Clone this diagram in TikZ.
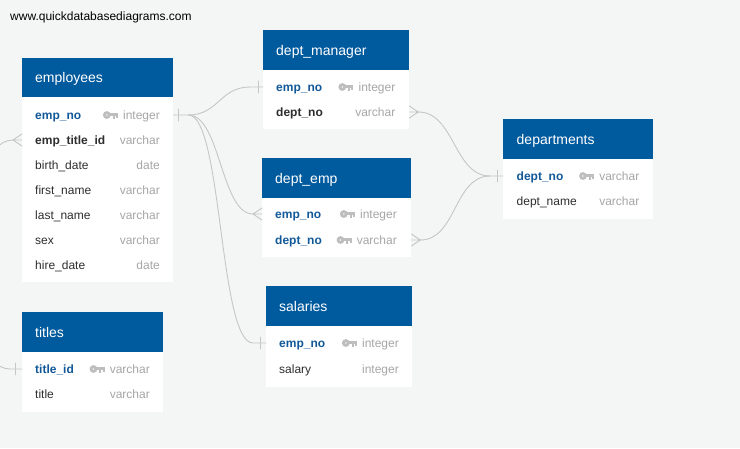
\documentclass[tikz,border=0pt]{standalone}
\usepackage{fontspec}
\setmainfont{Liberation Sans}
\usetikzlibrary{positioning}
\definecolor{qdbhead}{HTML}{005A9E}
\definecolor{qdbpk}{HTML}{12599A}
\definecolor{qdbtext}{HTML}{2E2E2E}
\definecolor{qdbtype}{HTML}{A6A6A6}
\definecolor{qdbkey}{HTML}{BEBEBE}
\definecolor{qdbline}{HTML}{C6C6C6}
\definecolor{qdbbg}{HTML}{F4F5F5}
\begin{document}
\begin{tikzpicture}[x=1pt,y=-1pt,line cap=round,line join=round,
  tblhead/.style={fill=qdbhead,anchor=north west,inner sep=0pt,minimum height=40pt},
  tblbody/.style={fill=white,anchor=north west,inner sep=0pt},
  tbltitle/.style={font=\fontsize{14}{16}\selectfont,text=white,inner sep=0pt,text height=12pt,text depth=2pt,anchor=west},
  field/.style={font=\fontsize{12}{14}\selectfont,text=qdbtext,inner sep=0pt,text height=8pt,text depth=0pt,anchor=west},
  pkfield/.style={field,font=\fontsize{12}{14}\selectfont\bfseries,text=qdbpk},
  fkfield/.style={field,font=\fontsize{12}{14}\selectfont\bfseries},
  ftype/.style={field,text=qdbtype,anchor=east},
  link/.style={draw=qdbline,line width=0.9pt},
  pkey/.pic={
    \fill[qdbkey,even odd rule] (3.9,0) circle[radius=3.9pt] (3.9,0) circle[radius=1pt];
    \fill[qdbkey] (6,-1.9) rectangle (15,1.3);
    \fill[qdbkey] (9.6,1.3) rectangle (11.6,3.6);
    \fill[qdbkey] (13,1.3) rectangle (15,3.2);
  },
  onebar/.pic={\draw[link] (0,-6) -- (0,6);},
  crowfoot/.pic={\draw[link] (0,0) -- (9,-6) (0,0) -- (9,0) (0,0) -- (9,6);}
]
\fill[qdbbg] (0,0) rectangle (740,448);
\useasboundingbox (0,0) rectangle (740,448);
\node[field,text=black] (qdb-url) at (10,16) {www.quickdatabasediagrams.com};

% employees
\node[tblhead,minimum width=151pt,minimum height=39pt] (emp-head) at (22,58) {};
\node[tblbody,minimum width=151pt,minimum height=185pt] (emp-body) at (22,97) {};
\node[tbltitle,right=13pt of emp-head.west] (emp-title) {employees};
\node[pkfield] (emp-no) at (35,115) {emp\_no};
\node[ftype] (emp-no-t) at (160,115) {integer};
\pic at ([xshift=-20pt]emp-no-t.west) {pkey};
\node[fkfield] (emp-tid) at (35,140) {emp\_title\_id};
\node[ftype] (emp-tid-t) at (160,140) {varchar};
\foreach \nm/\f/\t/\y in {bd/birth\_date/date/165, fn/first\_name/varchar/190,
    ln/last\_name/varchar/215, sex/sex/varchar/240, hd/hire\_date/date/265} {
  \node[field] (emp-\nm) at (35,\y) {\f};
  \node[ftype] (emp-\nm-t) at (160,\y) {\t};
}

% dept_manager
\node[tblhead,minimum width=146pt] (dm-head) at (263,30) {};
\node[tblbody,minimum width=146pt,minimum height=59pt] (dm-body) at (263,70) {};
\node[tbltitle,right=13pt of dm-head.west] (dm-title) {dept\_manager};
\node[pkfield] (dm-no) at (276,87) {emp\_no};
\node[ftype] (dm-no-t) at (395.5,87) {integer};
\pic at ([xshift=-20pt]dm-no-t.west) {pkey};
\node[fkfield] (dm-dept) at (276,112) {dept\_no};
\node[ftype] (dm-dept-t) at (395.5,112) {varchar};

% dept_emp
\node[tblhead,minimum width=149pt] (de-head) at (262,158) {};
\node[tblbody,minimum width=149pt,minimum height=59pt] (de-body) at (262,198) {};
\node[tbltitle,right=13pt of de-head.west] (de-title) {dept\_emp};
\node[pkfield] (de-no) at (275,214) {emp\_no};
\node[ftype] (de-no-t) at (397,214) {integer};
\pic at ([xshift=-20pt]de-no-t.west) {pkey};
\node[pkfield] (de-dept) at (275,240) {dept\_no};
\node[ftype] (de-dept-t) at (397,240) {varchar};
\pic at ([xshift=-20pt]de-dept-t.west) {pkey};

% departments
\node[tblhead,minimum width=150pt] (dep-head) at (503,119) {};
\node[tblbody,minimum width=150pt,minimum height=60pt] (dep-body) at (503,159) {};
\node[tbltitle,right=13.5pt of dep-head.west] (dep-title) {departments};
\node[pkfield] (dep-no) at (516.5,176) {dept\_no};
\node[ftype] (dep-no-t) at (639.5,176) {varchar};
\pic at ([xshift=-20pt]dep-no-t.west) {pkey};
\node[field] (dep-name) at (516.5,201) {dept\_name};
\node[ftype] (dep-name-t) at (639.5,201) {varchar};

% titles
\node[tblhead,minimum width=141pt] (tit-head) at (22,312) {};
\node[tblbody,minimum width=141pt,minimum height=60pt] (tit-body) at (22,352) {};
\node[tbltitle,right=13pt of tit-head.west] (tit-title) {titles};
\node[pkfield] (tit-id) at (35,369) {title\_id};
\node[ftype] (tit-id-t) at (150,369) {varchar};
\pic at ([xshift=-20pt]tit-id-t.west) {pkey};
\node[field] (tit-name) at (35,394) {title};
\node[ftype] (tit-name-t) at (150,394) {varchar};

% salaries
\node[tblhead,minimum width=146pt] (sal-head) at (266,286) {};
\node[tblbody,minimum width=146pt,minimum height=61pt] (sal-body) at (266,326) {};
\node[tbltitle,right=13pt of sal-head.west] (sal-title) {salaries};
\node[pkfield] (sal-no) at (279,343) {emp\_no};
\node[ftype] (sal-no-t) at (399,343) {integer};
\pic at ([xshift=-20pt]sal-no-t.west) {pkey};
\node[field] (sal-amt) at (279,369) {salary};
\node[ftype] (sal-amt-t) at (399,369) {integer};

% row ends for the links
\coordinate (emp-no-r) at (emp-body.east |- emp-no);
\coordinate (emp-tid-l) at (emp-body.west |- emp-tid);
\coordinate (dm-no-l) at (dm-body.west |- dm-no);
\coordinate (dm-dept-r) at (dm-body.east |- dm-dept);
\coordinate (de-no-l) at (de-body.west |- de-no);
\coordinate (de-dept-r) at (de-body.east |- de-dept);
\coordinate (dep-no-l) at (dep-body.west |- dep-no);
\coordinate (tit-id-l) at (tit-body.west |- tit-id);
\coordinate (sal-no-l) at (sal-body.west |- sal-no);

% links
\draw[link] (emp-no-r) -- ++(15,0) coordinate (emp-no-s)
  .. controls +(30,0) and +(-30,0) .. ([xshift=-13pt]dm-no-l) -- (dm-no-l);
\draw[link] (emp-no-s) .. controls +(32,0) and +(-32,0) .. ([xshift=-9pt]de-no-l);
\draw[link] (emp-no-s) .. controls +(34,0) and +(-34,0) .. ([xshift=-13pt]sal-no-l) -- (sal-no-l);
\draw[link] ([xshift=9pt]dm-dept-r) .. controls +(36,0) and +(-36,0) .. ([xshift=-13pt]dep-no-l) -- (dep-no-l);
\draw[link] ([xshift=9pt]de-dept-r) .. controls +(36,0) and +(-36,0) .. ([xshift=-13pt]dep-no-l);
\draw[link] ([xshift=-9pt]emp-tid-l) .. controls +(-56,0) and +(-56,0) .. ([xshift=-12pt]tit-id-l) -- (tit-id-l);

% ends of the links
\pic at ([xshift=5pt]emp-no-r) {onebar};
\pic at ([xshift=-5pt]dm-no-l) {onebar};
\pic at ([xshift=-6pt]sal-no-l) {onebar};
\pic at ([xshift=-6pt]dep-no-l) {onebar};
\pic at ([xshift=-7pt]tit-id-l) {onebar};
\pic at ([xshift=-9pt]de-no-l) {crowfoot};
\pic at ([xshift=-9pt]emp-tid-l) {crowfoot};
\pic[xscale=-1] at ([xshift=9pt]dm-dept-r) {crowfoot};
\pic[xscale=-1] at ([xshift=9pt]de-dept-r) {crowfoot};
\end{tikzpicture}
\end{document}
